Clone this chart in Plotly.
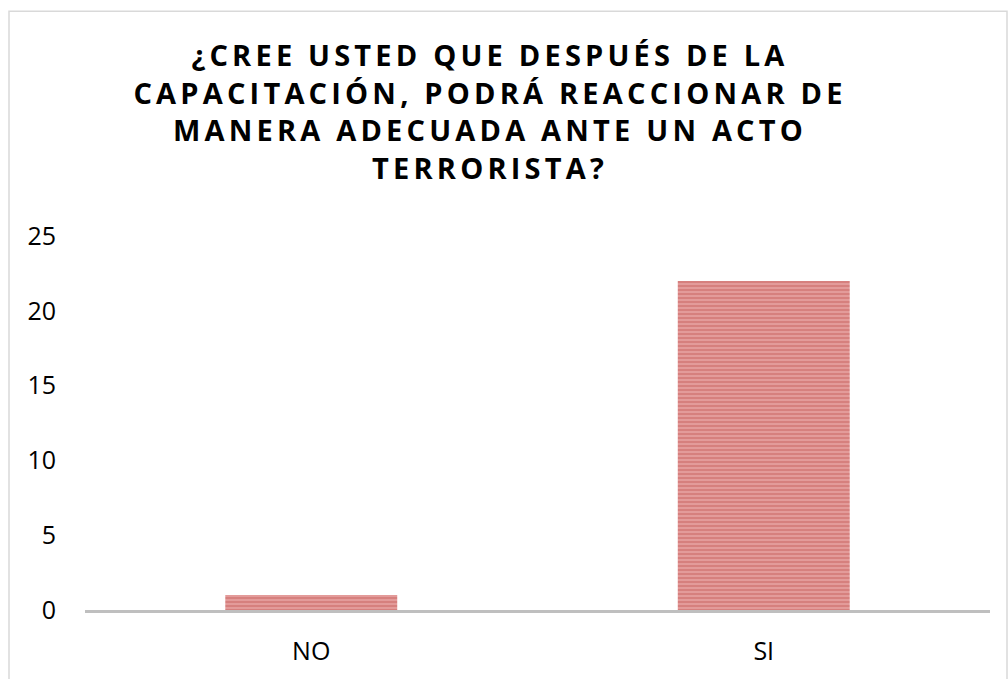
import plotly.graph_objs as go

categories = ['NO', 'SI']
values = [1, 22]
title_lines = ['¿CREE USTED QUE DESPUÉS DE LA',
               'CAPACITACIÓN, PODRÁ REACCIONAR DE',
               'MANERA ADECUADA ANTE UN ACTO',
               'TERRORISTA?']
y_ticks = [0, 5, 10, 15, 20, 25]

fig = go.Figure()
fig.add_trace(go.Bar(
    x=categories,
    y=values,
    marker=dict(
        color='#EDB0AF',
        line=dict(width=0),
        pattern=dict(shape='-', fgcolor='#C0504D', bgcolor='#EDB0AF',
                     size=4, solidity=0.72, fillmode='overlay'),
    ),
))

fig.update_layout(
    width=1008,
    height=679,
    title=dict(
        text='<br>'.join(title_lines),
        x=490 / 1008,
        xanchor='center',
        y=1 - 66 / 679,
        yanchor='top',
        font=dict(family='Open Sans', size=29, color='#000', weight='bold'),
    ),
    xaxis=dict(
        showline=True,
        linecolor='#BFBFBF',
        linewidth=3,
        showgrid=False,
        ticks='',
        ticklabelstandoff=17,
        tickfont=dict(family='Open Sans', size=25, color='#000'),
    ),
    yaxis=dict(
        range=[0, 25],
        tickvals=y_ticks,
        showgrid=False,
        zeroline=False,
        showline=False,
        ticks='',
        ticklabelstandoff=28,
        tickfont=dict(family='Open Sans', size=25, color='#000'),
    ),
    bargap=0.62,
    plot_bgcolor='white',
    paper_bgcolor='white',
    showlegend=False,
    margin=dict(l=85, r=18, t=236, b=67),
    shapes=[dict(type='rect', xref='paper', yref='paper',
                 x0=-76 / 905, x1=922 / 905, y0=-0.3, y1=1 + 226 / 376,
                 line=dict(color='#D9D9D9', width=1.5), layer='below')],
)

# drop the browser's default body margin and space out the title letters
post = ("document.body.style.margin='0';"
        "document.querySelectorAll('.gtitle').forEach(function(e){"
        "e.style.letterSpacing='4.2px';});")
fig.write_html('out.html', post_script=post, config={'displayModeBar': False})
